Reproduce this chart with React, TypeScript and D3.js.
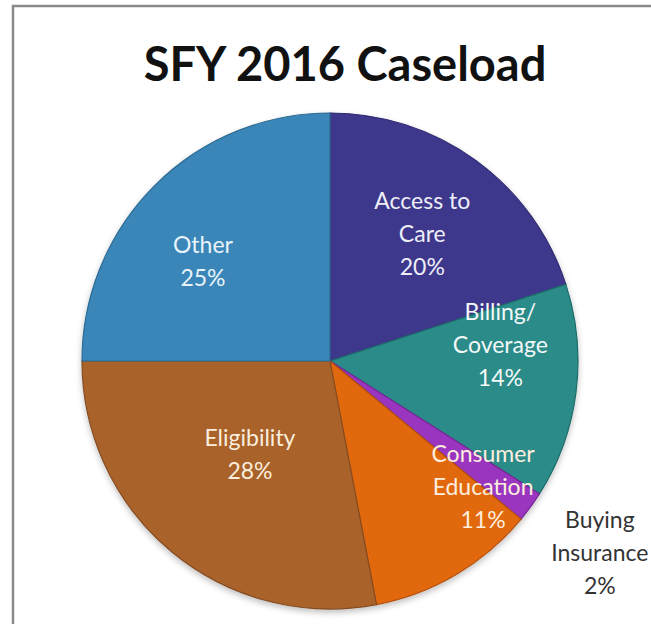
import React from "react";
import * as d3 from "d3";

const categories = ["Access to Care", "Billing/Coverage", "Buying Insurance", "Consumer Education", "Eligibility", "Other"];
const values = [20, 14, 2, 11, 28, 25];
const labelLines = [["Access to", "Care", "20%"], ["Billing/", "Coverage", "14%"], ["Buying", "Insurance", "2%"], ["Consumer", "Education", "11%"], ["Eligibility", "28%"], ["Other", "25%"]];
const colors = ["#3e378c", "#2b8b89", "#9a35c0", "#e2670f", "#a8622c", "#3a86b8"];
const strokeColors = ["#2f2a70", "#1f6d6b", "#7a2698", "#b5500a", "#844c22", "#2c6b94"];
const textColors = ["#eeeef8", "#f4f8f8", "#333333", "#fdeede", "#fbeedd", "#e8f3fa"];
// label placement: [radius fraction, angle (deg from 12 o'clock, clockwise)]
const labelPlace: [number, number][] = [[0.633, 36], [0.69, 84.6], [1.335, 125.4], [0.8, 129.5], [0.495, 220.7], [0.65, 308]];

const W = 651, H = 624;
const cx = 330, cy = 361, R = 248;

export default function App() {
  const pie = d3.pie<number>().sort(null).value((d) => d)(values);
  const arc = d3.arc<d3.PieArcDatum<number>>().innerRadius(0).outerRadius(R);
  const fs = 23, lh = 33;
  return (
    <svg width={W} height={H} style={{ position: "absolute", left: 0, top: 0, fontFamily: "Lato, 'Open Sans', sans-serif" }}>
      <defs>
        <filter id="sh" x="-10%" y="-10%" width="120%" height="120%">
          <feGaussianBlur in="SourceAlpha" stdDeviation="3" />
          <feOffset dx="0" dy="3" result="b" />
          <feComponentTransfer><feFuncA type="linear" slope="0.25" /></feComponentTransfer>
          <feMerge><feMergeNode /><feMergeNode in="SourceGraphic" /></feMerge>
        </filter>
      </defs>
      <rect x={0} y={0} width={W} height={H} fill="#ffffff" />
      <rect x={13} y={6} width={W + 20} height={H + 20} fill="none" stroke="#8a8a8a" strokeWidth={2.5} />
      <text x={345} y={81} textAnchor="middle" fontSize={47} fontWeight="bold" fill="#111">SFY 2016 Caseload</text>
      <g transform={`translate(${cx},${cy})`} filter="url(#sh)">
        {pie.map((p, i) => (
          <path key={categories[i]} d={arc(p) || ""} fill={colors[i]} stroke={strokeColors[i]} strokeWidth={1.2} />
        ))}
      </g>
      <g transform={`translate(${cx},${cy})`}>
        {labelLines.map((lines, i) => {
          const [rf, ang] = labelPlace[i];
          const a = (ang * Math.PI) / 180;
          const x = Math.sin(a) * R * rf;
          const y = -Math.cos(a) * R * rf;
          const y0 = y - ((lines.length - 1) * lh) / 2;
          return (
            <text key={i} textAnchor="middle" fontSize={fs} fill={textColors[i]}>
              {lines.map((l, j) => (
                <tspan key={j} x={x} y={y0 + j * lh} dy="0.35em">{l}</tspan>
              ))}
            </text>
          );
        })}
      </g>
    </svg>
  );
}
